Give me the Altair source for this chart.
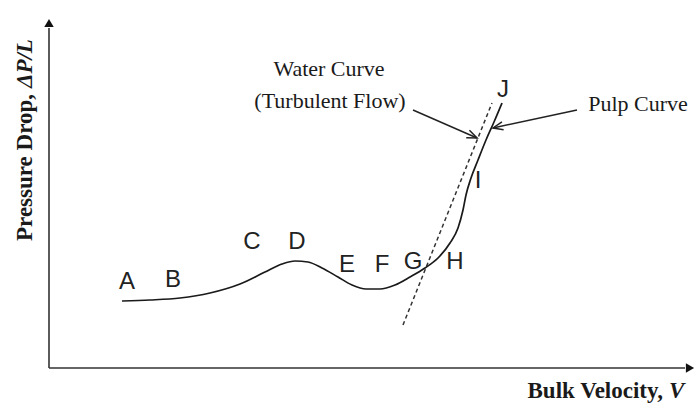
import math
import altair as alt
import pandas as pd

# Coordinates are in arbitrary velocity / pressure-drop units measured from the origin.
# Pulp curve (pressure drop vs bulk velocity)
pulp_v = [73, 101, 131, 161, 191, 216, 233, 246, 259, 273, 289, 303, 317, 331,
          346, 361, 376, 389, 401, 409, 414, 417, 422, 429, 437, 445, 453]
pulp_dp = [67, 68, 70, 75, 84, 96, 104, 107, 106, 100, 91, 83, 79, 79,
           83, 91, 100, 110, 125, 140, 158, 173, 190, 208, 228, 246, 265]

# Water curve (turbulent flow), straight dashed line
water_v = [354, 443]
water_dp = [43, 265]

# Regime letters along the pulp curve
letters = ["A", "B", "C", "D", "E", "F", "G", "H", "I", "J"]
letter_v = [78, 124, 203, 248, 298, 333, 364, 406, 429, 454]
letter_dp = [86, 88, 126, 126, 103, 103, 106, 106, 187, 278]

# Annotation texts and their arrows
note_text = ["Water Curve", "(Turbulent Flow)", "Pulp Curve"]
note_v = [280, 281, 589]
note_dp = [299, 267, 264]
arrow_from_v = [364, 528]
arrow_from_dp = [258, 258]
arrow_to_v = [428, 444]
arrow_to_dp = [230, 240]

# Axis titles: plain part and italic symbol part, joined at an anchor
title_plain = ["Pressure Drop,", "Bulk Velocity,"]
title_symbol = ["ΔP/L", "V"]
title_v = [-24, 614]
title_dp = [274, -23]
title_angle = [270, 0]

# Axis extents
axis_len_v = 646
axis_len_dp = 350
tip_len = 10

X = alt.Scale(domain=[0, 648], range=[49, 697])
Y = alt.Scale(domain=[0, 350], range=[368, 18])

def xe(f):
    return alt.X(f, type="quantitative", scale=X, axis=None)

def ye(f):
    return alt.Y(f, type="quantitative", scale=Y, axis=None)

pulp = pd.DataFrame({"v": pulp_v, "dp": pulp_dp})
water = pd.DataFrame({"v": water_v, "dp": water_dp})
lab = pd.DataFrame({"t": letters, "v": letter_v, "dp": letter_dp})
notes = pd.DataFrame({"t": note_text, "v": note_v, "dp": note_dp})
arrows = pd.DataFrame({"v": arrow_from_v, "dp": arrow_from_dp,
                       "v2": arrow_to_v, "dp2": arrow_to_dp})
arrows["ang"] = [
    math.degrees(math.atan2(b - a, d - c)) % 360
    for a, b, c, d in zip(arrow_from_v, arrow_to_v, arrow_from_dp, arrow_to_dp)
]
titles = pd.DataFrame({"plain": title_plain, "sym": title_symbol,
                       "v": title_v, "dp": title_dp, "ang": title_angle})

axes = pd.DataFrame({"v": [0, 0], "dp": [0, 0],
                     "v2": [0, axis_len_v - tip_len], "dp2": [axis_len_dp - tip_len, 0]})
y_tip = pd.DataFrame({"v": [0], "dp": [axis_len_dp - tip_len / 2]})
x_tip = pd.DataFrame({"v": [axis_len_v - tip_len / 2], "dp": [0]})

axis_lines = alt.Chart(axes).mark_rule(color="#333", strokeWidth=1.6).encode(
    x=xe("v"), y=ye("dp"), x2="v2", y2="dp2")
y_tip_mark = alt.Chart(y_tip).mark_point(
    shape="triangle-up", filled=True, color="#111", size=90, opacity=1
).encode(x=xe("v"), y=ye("dp"))
x_tip_mark = alt.Chart(x_tip).mark_point(
    shape="triangle-right", filled=True, color="#111", size=90, opacity=1
).encode(x=xe("v"), y=ye("dp"))

pulp_line = alt.Chart(pulp).mark_line(
    color="#1a1a1a", strokeWidth=1.7, interpolate="monotone").encode(
    x=xe("v"), y=ye("dp"), order="v:Q")
water_line = alt.Chart(water).mark_line(
    color="#333", strokeWidth=1.5, strokeDash=[4, 3]).encode(x=xe("v"), y=ye("dp"))

letter_text = alt.Chart(lab).mark_text(
    font="Liberation Sans", fontSize=24, color="#222").encode(
    x=xe("v"), y=ye("dp"), text="t:N")

note_marks = alt.Chart(notes).mark_text(
    font="Liberation Serif", fontSize=22, color="#1a1a1a").encode(
    x=xe("v"), y=ye("dp"), text="t:N")

arrow_lines = alt.Chart(arrows).mark_rule(color="#222", strokeWidth=1.5).encode(
    x=xe("v"), y=ye("dp"), x2="v2", y2="dp2")
arrow_heads = alt.Chart(arrows).mark_point(
    shape="M -0.8 2 L 0 0 L 0.8 2", filled=False, color="#222",
    strokeWidth=1.5, size=100, opacity=1
).encode(x=xe("v2"), y=ye("dp2"), angle=alt.Angle("ang:Q", scale=None))

# The symbol part sits one word-space after the plain part, along the text direction
title_plain_marks = alt.Chart(titles).mark_text(
    font="Liberation Serif", fontSize=23, fontWeight="bold", color="#1a1a1a",
    align="right"
).encode(x=xe("v"), y=ye("dp"), text="plain:N",
         angle=alt.Angle("ang:Q", scale=None))
title_symbol_marks = alt.Chart(titles).mark_text(
    font="Liberation Serif", fontSize=23, fontWeight="bold", fontStyle="italic",
    color="#1a1a1a", align="left", dx=6
).encode(x=xe("v"), y=ye("dp"), text="sym:N",
         angle=alt.Angle("ang:Q", scale=None))

chart = alt.layer(
    axis_lines, y_tip_mark, x_tip_mark, water_line, pulp_line, letter_text,
    note_marks, arrow_lines, arrow_heads, title_plain_marks, title_symbol_marks
).properties(
    width=697, height=403, autosize=alt.AutoSizeParams(type="none"),
    padding=0, background="white"
).configure_view(stroke=None)

chart.save("out.html", embed_options={"renderer": "svg", "actions": False})
